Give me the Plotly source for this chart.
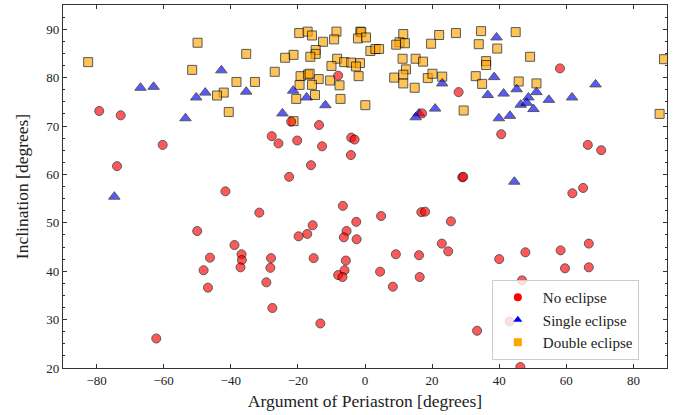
import plotly.graph_objects as go

# No eclipse (circles)
no_x = [-79.2, -72.8, -60.3, -73.9, -41.6, -27.8, -31.5, -50.0, -38.9, -36.8, -36.7, -37.1,
        -46.2, -48.1, -46.8, -62.2, -28.0, -28.2, -29.4, -27.6, -22.6, 29.0, 29.3, -6.6,
        4.8, 16.8, 17.9, 25.6, -2.6, -15.6, -17.2, -19.8, -5.5, -6.3, -2.5, 22.9, 24.8,
        9.2, 16.1, -15.3, -5.7, -6.1, -8.0, -6.7, 4.5, 8.3, 16.3, -13.3, 61.8, 65.0,
        66.7, 58.3, 47.8, 40.0, 59.6, 66.7, 46.8, 33.4, 46.3, 43.1, 58.1, 27.9, 40.6,
        66.4, 70.4, -8.0, -22.0, 17.0, -13.7, -25.8, -20.2, -12.8, -4.1, -3.1, -4.2, -16.1]
no_y = [73.1, 72.2, 66.1, 61.7, 56.5, 67.9, 52.1, 48.3, 45.4, 43.5, 42.3, 40.8,
        42.8, 40.2, 36.6, 26.1, 42.7, 40.7, 37.7, 32.4, 59.5, 59.4, 59.5, 53.5,
        51.4, 52.2, 52.3, 50.3, 50.2, 49.5, 47.7, 47.2, 48.3, 47.0, 46.6, 45.7, 44.1,
        43.5, 43.3, 42.7, 42.2, 40.2, 39.2, 38.8, 39.9, 36.8, 38.8, 29.2, 56.1, 57.2,
        45.7, 44.3, 43.9, 42.5, 40.6, 40.8, 38.1, 27.7, 20.2, 29.6, 81.9, 77.0, 68.3,
        66.1, 65.0, 80.4, 70.9, 72.6, 70.2, 66.4, 67.0, 65.8, 67.6, 67.2, 64.0, 61.9]

# Single eclipse (triangles)
single_x = [-42.8, -66.9, -63.0, -50.3, -47.6, -35.4, -53.5, -74.7, -21.4, -17.4, -11.8,
            -24.6, 23.0, 20.9, 16.1, 15.1, 39.2, 68.7, 38.5, 36.6, 41.3, 45.2, 48.7,
            51.1, 46.4, 48.2, 50.2, 54.8, 61.7, 39.9, 43.2, 44.5]
single_y = [81.5, 77.9, 78.1, 75.9, 76.9, 77.1, 71.6, 55.4, 77.3, 75.9, 74.3,
            72.6, 78.8, 73.6, 72.6, 71.8, 88.3, 78.6, 80.1, 76.4, 76.7, 77.6, 75.9,
            77.0, 74.4, 74.8, 73.5, 75.4, 75.9, 71.6, 72.1, 58.5]

# Double eclipse (squares)
double_x = [-82.5, -49.9, -35.4, -51.5, -38.3, -32.8, -42.1, -44.1, -40.6,
            -19.6, -17.1, -15.8, -8.5, -9.2, -12.5, -1.4, -1.1, -2.1, 0.3, 11.4, 22.1,
            27.1, 19.7, 10.3, 9.3, 11.9, 1.6, 3.1, 4.2, -14.7, -14.7, -16.3, -21.3,
            -23.8, -26.9, -8.3, -6.2, -4.1, -1.5, -2.7, -10.0, -1.9, -7.6, -10.4,
            -13.8, -19.2, -17.0, -16.5, -19.5, -15.8, -20.5, -14.9, -7.3, 0.1, 11.2,
            15.1, 17.3, 12.2, 8.7, 11.4, 11.4, 14.8, 18.7, 20.1, 23.0, 29.4, -21.3,
            34.6, 44.9, 33.9, 39.4, 49.2, 36.1, 36.1, 89.1, 33.0, 34.9, 45.8, 51.1, 87.8]
double_y = [83.2, 87.2, 84.9, 81.6, 79.1, 79.1, 76.9, 76.3, 72.9,
            89.2, 89.5, 88.7, 89.5, 87.9, 87.4, 89.5, 89.4, 88.1, 88.3, 89.0, 88.8,
            89.2, 87.0, 87.3, 86.8, 87.1, 85.5, 85.9, 85.9, 85.7, 84.9, 84.3, 84.7,
            84.1, 81.2, 83.9, 83.2, 83.1, 83.0, 82.3, 82.4, 80.3, 78.4, 79.4,
            79.7, 80.3, 80.6, 80.8, 78.5, 78.5, 75.6, 76.4, 75.6, 74.3, 83.9,
            83.9, 83.3, 81.7, 80.0, 80.6, 78.8, 77.9, 79.9, 80.8, 80.2, 73.2, 71.0,
            89.6, 89.4, 86.9, 86.0, 84.3, 83.4, 82.6, 83.8, 80.3, 78.7, 79.2, 78.8, 72.5]

labels = ["No eclipse", "Single eclipse", "Double eclipse"]
colors = ["#ff0000", "#0000ff", "#ffa500"]
symbols = ["circle", "triangle-up", "square"]

FONT = "Liberation Serif"
fig = go.Figure()

# data traces (squares, triangles, then circles on top)
fig.add_trace(go.Scatter(x=double_x, y=double_y, mode="markers", showlegend=False,
                         marker=dict(symbol="square", size=9, color=colors[2], opacity=0.65,
                                     line=dict(color="black", width=1))))
fig.add_trace(go.Scatter(x=single_x, y=single_y, mode="markers", showlegend=False,
                         marker=dict(symbol="triangle-up", size=10, color=colors[1], opacity=0.65,
                                     line=dict(color="black", width=1))))
fig.add_trace(go.Scatter(x=no_x, y=no_y, mode="markers", showlegend=False,
                         marker=dict(symbol="circle", size=9, color=colors[0], opacity=0.65,
                                     line=dict(color="black", width=1))))

# legend entries (solid markers)
for lab, col, sym in zip(labels, colors, symbols):
    fig.add_trace(go.Scatter(x=[None], y=[None], mode="markers", name=lab,
                             marker=dict(symbol=sym, size=8, color=col, line=dict(width=0))))

axis_common = dict(showgrid=False, zeroline=False, showline=True, linecolor="#333",
                   linewidth=1.2, mirror="allticks", ticks="inside", tickcolor="#333",
                   tickfont=dict(family=FONT, size=13, color="#222"))

fig.update_xaxes(range=[-90, 90], tickvals=[-80, -60, -40, -20, 0, 20, 40, 60, 80],
                 ticklen=4, title=dict(text="Argument of Periastron [degrees]",
                                       font=dict(family=FONT, size=17.5, color="#222"), standoff=8),
                 **axis_common)
fig.update_yaxes(range=[20, 95], tickvals=[20, 30, 40, 50, 60, 70, 80, 90], ticklen=4,
                 minor=dict(dtick=2.5, ticks="inside", ticklen=2, tickcolor="#333"),
                 title=dict(text="Inclination [degrees]",
                            font=dict(family=FONT, size=17.5, color="#222"), standoff=13),
                 **axis_common)

fig.update_layout(
    width=673, height=415,
    margin=dict(l=63, r=6, t=5, b=47),
    plot_bgcolor="white", paper_bgcolor="white",
    legend=dict(x=0.710, y=0.022, xanchor="left", yanchor="bottom",
                bgcolor="rgba(255,255,255,0.8)", bordercolor="#cccccc", borderwidth=1,
                font=dict(family=FONT, size=15, color="#222"), itemwidth=40),
)

fig.write_html("out.html")
